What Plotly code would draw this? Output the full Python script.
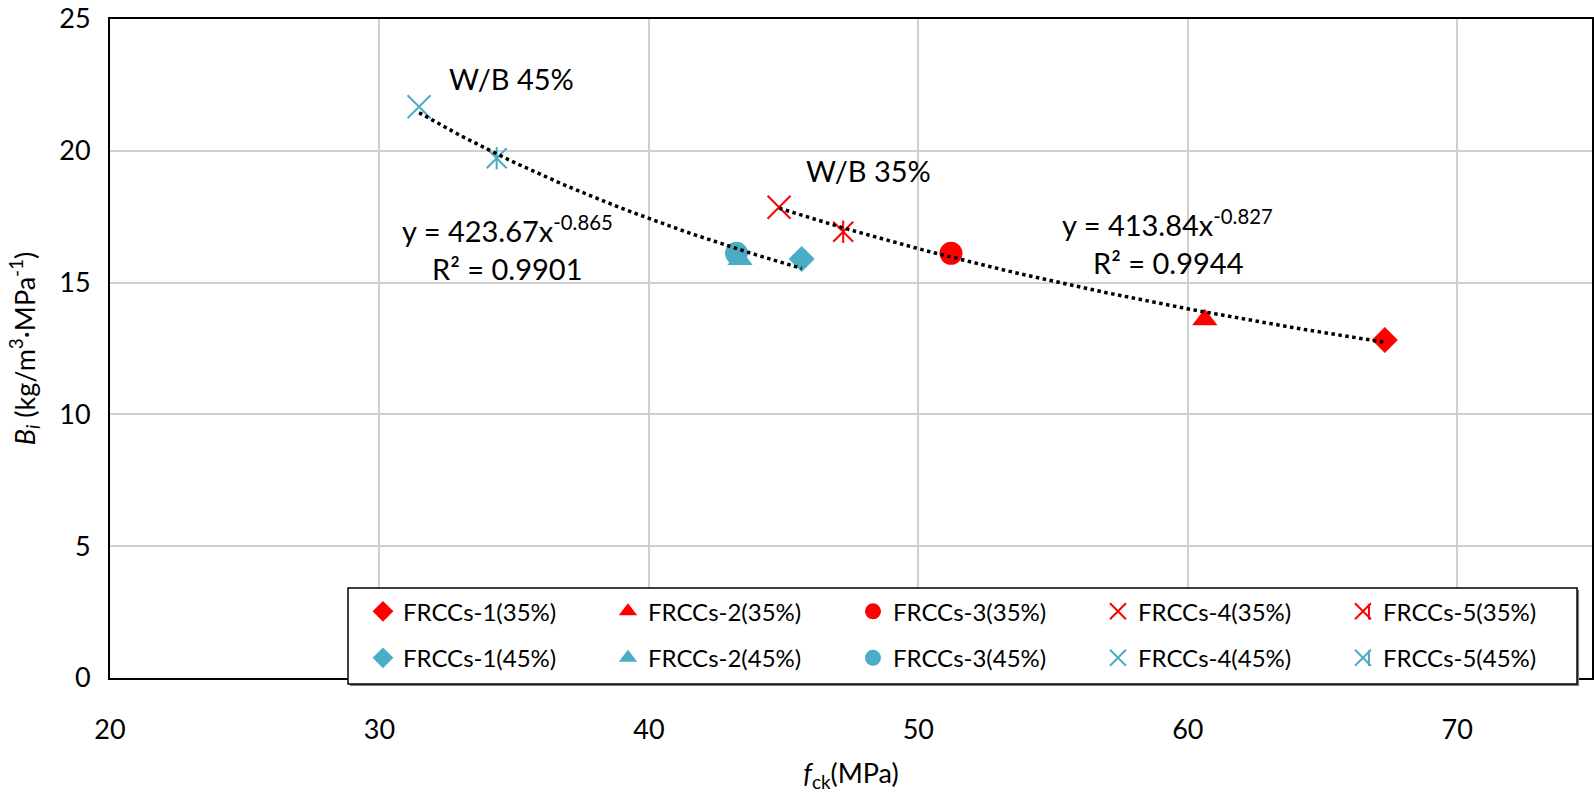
import numpy as np
import plotly.graph_objects as go

# ---- data ----
series_names = ["FRCCs-1", "FRCCs-2", "FRCCs-3", "FRCCs-4", "FRCCs-5"]
fck_35 = [67.31, 60.63, 51.21, 44.83, 47.21]
bi_35 = [12.82, 13.59, 16.11, 17.86, 16.93]
fck_45 = [45.67, 43.38, 43.25, 31.47, 34.35]
bi_45 = [15.90, 15.88, 16.11, 21.67, 19.72]

# power trendlines shown on the chart: y = a * x^b
fit_35 = (413.84, -0.827, 0.9944)
fit_45 = (423.67, -0.865, 0.9901)

x_ticks = [20, 30, 40, 50, 60, 70]
y_ticks = [0, 5, 10, 15, 20, 25]

RED = "#FF0000"
BLUE = "#4BACC6"
FONT = "Lato"

symbols = ["diamond", "triangle-up", "circle", "x-thin-open", "x-thin-open"]
sizes = [20, 22, 23, 23, 20]

fig = go.Figure()

def add_group(xs, ys, color, tag, legend):
    for i, name in enumerate(series_names):
        open_sym = symbols[i].endswith("open")
        fig.add_trace(go.Scatter(
            x=[xs[i]], y=[ys[i]], mode="markers",
            name=f"{name}({tag})", legend=legend,
            marker=dict(symbol=symbols[i], size=sizes[i], color=color,
                        line=dict(width=2, color=color) if open_sym else dict(width=0)),
        ))
    # vertical stroke completing the asterisk of series 5
    fig.add_trace(go.Scatter(
        x=[xs[4]], y=[ys[4]], mode="markers", showlegend=False, legend=legend,
        marker=dict(symbol="line-ns-open", size=16, color=color,
                    line=dict(width=2, color=color)),
    ))

add_group(fck_35, bi_35, RED, "35%", "legend")
add_group(fck_45, bi_45, BLUE, "45%", "legend2")

for xs, (a, b, r2) in [(fck_35, fit_35), (fck_45, fit_45)]:
    xx = np.linspace(min(xs), max(xs), 60)
    fig.add_trace(go.Scatter(x=xx, y=a * xx ** b, mode="lines", showlegend=False,
                             line=dict(color="black", width=3.5, dash="dot")))

ann_font = dict(family=FONT, size=29, color="black")
annotations = [
    dict(x=34.91, y=22.75, text="W/B 45%"),
    dict(x=48.14, y=19.27, text="W/B 35%"),
    dict(x=34.75, y=17.03, text=f"y = {fit_45[0]}x<sup>{fit_45[1]}</sup>"),
    dict(x=34.75, y=15.52, text=f"R² = {fit_45[2]}"),
    dict(x=59.24, y=17.28, text=f"y = {fit_35[0]}x<sup>{fit_35[1]}</sup>"),
    dict(x=59.26, y=15.76, text=f"R² = {fit_35[2]}"),
]
for a in annotations:
    a.update(xref="x", yref="y", showarrow=False, font=ann_font,
             xanchor="center", yanchor="middle")

axis_common = dict(showgrid=True, gridcolor="#D0D0D0", gridwidth=2,
                   showline=True, linecolor="black", linewidth=2, mirror=True,
                   zeroline=False, ticks="", automargin=False,
                   ticklabeloverflow="allow",
                   tickfont=dict(family=FONT, size=27, color="black"))

# legend box (white with a thin shadow) and the vertical strokes of the
# asterisk legend symbols
LEG_X = 0.1707
ROW1_Y, ROW2_Y = 0.1006, 0.030
AST_X = 0.8495
shapes = [
    dict(type="rect", xref="paper", yref="paper", x0=0.1620, x1=0.9913,
         y0=-0.0121, y1=0.1336, fillcolor="#7F7F7F", line=dict(width=0), layer="above"),
    dict(type="rect", xref="paper", yref="paper", x0=0.1606, x1=0.9899,
         y0=-0.0091, y1=0.1366, fillcolor="white",
         line=dict(color="black", width=1.5), layer="above"),
]
for yc, col in [(ROW1_Y, RED), (ROW2_Y, BLUE)]:
    shapes.append(dict(type="line", xref="paper", yref="paper", x0=AST_X, x1=AST_X,
                       y0=yc - 0.0118, y1=yc + 0.0118, layer="above",
                       line=dict(color=col, width=2)))

fig.update_layout(
    width=1594, height=795,
    margin=dict(l=110, r=2, t=19, b=117),
    paper_bgcolor="white", plot_bgcolor="white",
    font=dict(family=FONT, color="black"),
    xaxis=dict(range=[20, 75], tickvals=x_ticks, ticklabelstandoff=27,
               title=dict(text="<i>f</i><sub>ck</sub>(MPa)",
                          font=dict(family=FONT, size=27), standoff=20),
               **axis_common),
    yaxis=dict(range=[0, 25], tickvals=y_ticks, ticklabelstandoff=12,
               title=dict(text="<i>B</i><sub><i>i</i></sub> (kg/m<sup>3</sup>·MPa<sup>-1</sup>)",
                          font=dict(family=FONT, size=27), standoff=16),
               **axis_common),
    legend=dict(orientation="h", x=LEG_X, xanchor="left", y=ROW1_Y, yanchor="middle",
                bgcolor="rgba(0,0,0,0)", borderwidth=0, entrywidth=200,
                font=dict(family=FONT, size=24, color="black"), traceorder="normal"),
    legend2=dict(orientation="h", x=LEG_X, xanchor="left", y=ROW2_Y, yanchor="middle",
                 bgcolor="rgba(0,0,0,0)", borderwidth=0, entrywidth=200,
                 font=dict(family=FONT, size=24, color="black"), traceorder="normal"),
    annotations=annotations,
    shapes=shapes,
    showlegend=True,
)

fig.write_html("out.html", config={"displayModeBar": False},
               post_script="document.body.style.margin='0';document.body.style.overflow='hidden';")
